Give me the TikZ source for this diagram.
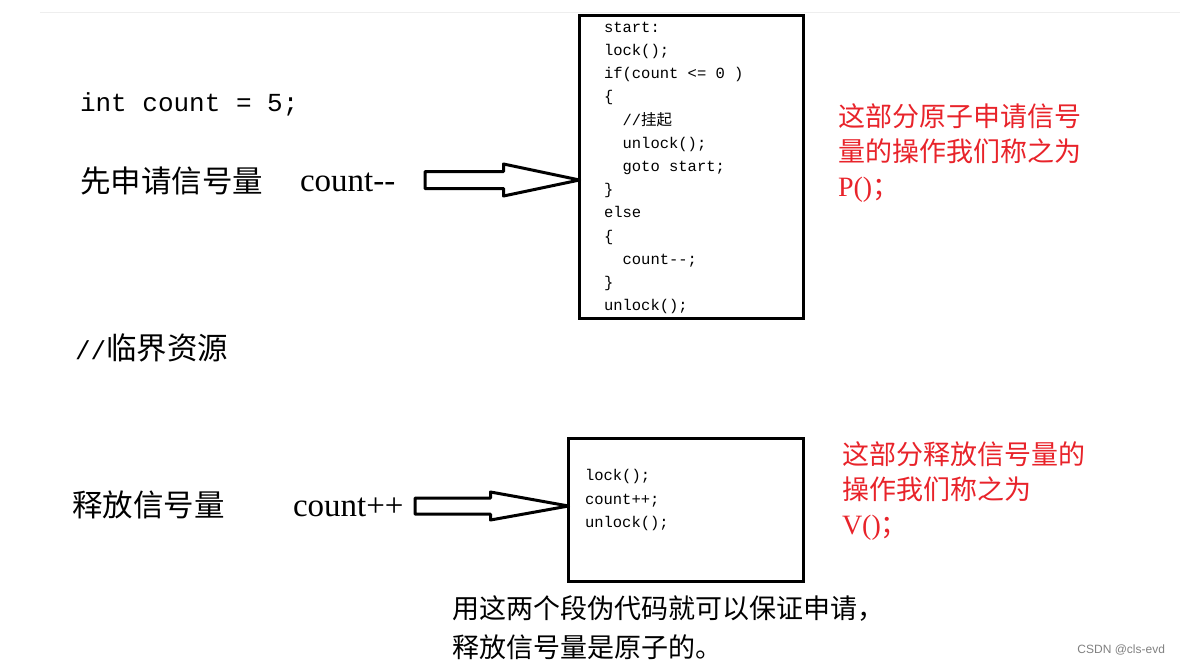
\documentclass[tikz,border=0pt]{standalone}
\usepackage{fontspec}
\setmainfont{Liberation Serif}
\newfontfamily\cjk{Noto Sans CJK SC}
\newfontfamily\codefont{Liberation Mono}
\usepackage{tikz}
\usetikzlibrary{calc, positioning}
\definecolor{notered}{HTML}{E8232A}
\definecolor{rulegray}{HTML}{EEEEEE}
\newcommand{\codeind}{\hspace*{1.2em}}

\begin{document}
\begin{tikzpicture}[
        x=1pt, y=-1pt,
        every node/.style={inner sep=0pt, outer sep=0pt},
        % boxes holding the pseudo code
        codebox/.style={rectangle, draw=black, line width=3pt},
        code/.style={font=\codefont\fontsize{15.5}{23.2}\selectfont,
                     align=left, anchor=west},
        lefttext/.style={font=\cjk\fontsize{30.5}{36}\selectfont, anchor=west},
        opname/.style={font=\fontsize{33}{38}\selectfont, anchor=west},
        note/.style={text=notered, font=\cjk\fontsize{27}{35}\selectfont,
                     align=left, anchor=north west},
        % hollow block arrows
        blockarrow/.style={draw=black, line width=3pt, fill=white, line join=round}
    ]
        \useasboundingbox (0,0) rectangle (1180,665);
        \draw[rulegray, line width=1pt] (40,12) -- (1180,12);

        % left column
        \node[anchor=west, font=\codefont\fontsize{26}{30}\selectfont] (decl) at (80,104) {int count = 5;};
        \node[lefttext] (plabel) at (80,181) {先申请信号量};
        \node[opname] (pdec) at (300,182) {count-{}-};
        \node[lefttext] (crit) at (75,348) {{\codefont\fontsize{26}{30}\selectfont //}临界资源};
        \node[lefttext] (vlabel) at (72,505) {释放信号量};
        \node[opname] (vinc) at (293,507) {count++};

        % P() box
        \node[codebox, minimum width=224, minimum height=303] (pbox) at (691.5,167) {};
        \node[code] (pcode) at (604,168) {start:\\lock();\\if(count <= 0 )\\\{\\
            \codeind//{\cjk 挂起}\\\codeind unlock();\\\codeind goto start;\\\}\\else\\\{\\
            \codeind count-{}-;\\\}\\unlock();};

        % V() box
        \node[codebox, minimum width=235, minimum height=143] (vbox) at (686,510) {};
        \node[code] (vcode) at (585,500) {lock();\\count++;\\unlock();};

        % arrows
        \coordinate (ptail) at (425,180);
        \coordinate (ptip) at (pbox.west |- ptail);
        \draw[blockarrow] ($(ptail)+(0,-8.5)$) -- ($(ptip)+(-76,-8.5)$) -- ($(ptip)+(-76,-16)$)
            -- (ptip) -- ($(ptip)+(-76,16)$) -- ($(ptip)+(-76,8.5)$) -- ($(ptail)+(0,8.5)$) -- cycle;
        \coordinate (vtail) at (415,506);
        \coordinate (vtip) at (vbox.west |- vtail);
        \draw[blockarrow] ($(vtail)+(0,-8)$) -- ($(vtip)+(-78,-8)$) -- ($(vtip)+(-78,-14)$)
            -- (vtip) -- ($(vtip)+(-78,14)$) -- ($(vtip)+(-78,8)$) -- ($(vtail)+(0,8)$) -- cycle;

        % red remarks
        \node[note] (pnote) at (838,104) {这部分原子申请信号\\量的操作我们称之为\\{\rmfamily\fontsize{28}{35}\selectfont P()}；};
        \node[note] (vnote) at (842,442) {这部分释放信号量的\\操作我们称之为\\{\rmfamily\fontsize{28}{35}\selectfont V()}；};

        % caption
        \node[note, text=black, font=\cjk\fontsize{27}{39}\selectfont] (caption) at (452,596)
            {用这两个段伪代码就可以保证申请，\\释放信号量是原子的。};
        \node[anchor=east, text=gray, font=\fontspec{Liberation Sans}\fontsize{12}{14}\selectfont] (mark) at (1165,650) {CSDN @cls-evd};
    \end{tikzpicture}
\end{document}
